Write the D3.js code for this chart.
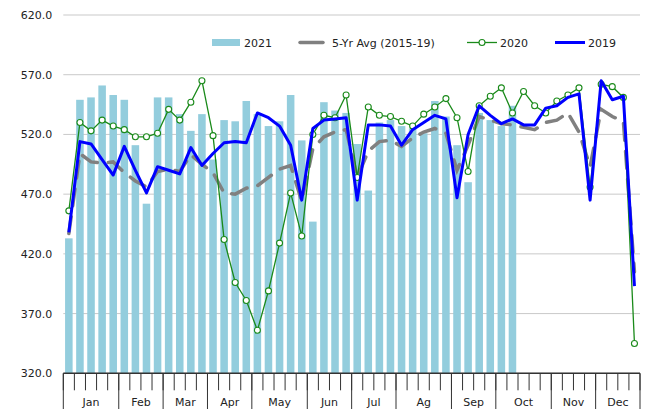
<!DOCTYPE html>
<html>
<head>
<meta charset="utf-8">
<script src="https://cdn.jsdelivr.net/npm/d3@7"></script>
<style>
  body { margin: 0; background: #fff; }
  text { font-family: "DejaVu Sans", sans-serif; font-size: 11px; fill: #222; }
</style>
</head>
<body>
<div id="chart"></div>
<script>
var months = ["Jan", "Feb", "Mar", "Apr", "May", "Jun", "Jul", "Ag", "Sep", "Oct", "Nov", "Dec"];
var weeksPerMonth = [5, 4, 4, 4, 5, 4, 4, 5, 4, 5, 4, 4];
var yTicks = [320, 370, 420, 470, 520, 570, 620];

var y2021 = [433, 549, 551, 561, 553, 549, 511, 462, 551, 551, 537, 523, 537, 499, 532, 531, 548, 537, 527, 531,
    553, 515, 447, 547, 540, 538, 512, 473, 530, 532, 527, 525, 521, 548, 535, 511, 480, 538, 532, 527, 544];
var avg5yr = [437, 504, 497, 496, 497, 488, 481, 476, 489, 491, 489, 503, 495, 488, 471, 470, 475, 477, 484, 491,
    494, 464, 508, 518, 522, 524, 484, 506, 514, 515, 510, 517, 522, 525, 521, 490, 511, 535, 532, 529,
    528, 526, 524, 530, 532, 538, 522, 493, 541, 535, 531, 405];
var y2020 = [456, 530, 523, 532, 527, 524, 518, 518, 521, 541, 532, 547, 565, 519, 432, 396, 381, 356, 389, 429,
    471, 435, 520, 536, 534, 553, 484, 543, 536, 535, 531, 527, 537, 543, 550, 534, 489, 544, 552, 559,
    538, 556, 544, 538, 548, 553, 559, 476, 562, 560, 551, 345];
var y2019 = [438, 514, 512, 499, 486, 510, 490, 471, 493, 490, 487, 509, 494, 504, 513, 514, 513, 538, 534, 527,
    511, 465, 525, 532, 533, 534, 465, 528, 528, 527, 511, 524, 530, 536, 533, 467, 520, 544, 536, 529,
    533, 528, 528, 542, 544, 551, 554, 465, 565, 549, 552, 393];

(function () {
    var width = 654, height = 409;
    var left = 63.3, right = 640, top = 15, bottom = 373.3;

    var svg = d3.select("#chart").append("svg")
        .attr("width", width)
        .attr("height", height);

    var weeks = d3.range(d3.sum(weeksPerMonth));

    var x = d3.scaleBand().domain(weeks).range([left, right])
        .paddingInner(0.32).paddingOuter(0.16);
    var step = (right - left) / weeks.length;
    var cx = function (i) { return x(i) + x.bandwidth() / 2; };

    var y = d3.scaleLinear().domain([320, 620]).range([bottom, top]);

    // grid
    svg.append("g")
        .selectAll("line")
        .data(yTicks)
        .enter().append("line")
        .attr("x1", left).attr("x2", right)
        .attr("y1", function (d) { return y(d); })
        .attr("y2", function (d) { return y(d); })
        .attr("stroke", "#c9c9c9")
        .attr("stroke-width", 1);

    // y labels
    var yAxis = svg.append("g")
        .attr("transform", "translate(" + left + ",0)")
        .call(d3.axisLeft(y).tickValues(yTicks).tickFormat(d3.format(".1f")).tickSize(0).tickPadding(11));
    yAxis.select(".domain").remove();
    yAxis.selectAll("text").attr("font-family", null).attr("font-size", null).attr("fill", null);

    // bars 2021
    svg.append("g")
        .selectAll("rect")
        .data(y2021)
        .enter().append("rect")
        .attr("x", function (d, i) { return x(i); })
        .attr("y", function (d) { return y(d); })
        .attr("width", x.bandwidth())
        .attr("height", function (d) { return bottom - y(d); })
        .attr("fill", "#93cddd");

    var line = d3.line()
        .x(function (d, i) { return cx(i); })
        .y(function (d) { return y(d); });

    svg.append("path")
        .datum(avg5yr)
        .attr("d", line)
        .attr("fill", "none")
        .attr("stroke", "#808080")
        .attr("stroke-width", 3.5)
        .attr("stroke-linecap", "round")
        .attr("stroke-dasharray", "17,11");

    svg.append("path")
        .datum(y2020)
        .attr("d", line)
        .attr("fill", "none")
        .attr("stroke", "#1a8a1a")
        .attr("stroke-width", 1.3);

    svg.append("g")
        .selectAll("circle")
        .data(y2020)
        .enter().append("circle")
        .attr("cx", function (d, i) { return cx(i); })
        .attr("cy", function (d) { return y(d); })
        .attr("r", 3)
        .attr("fill", "#fff")
        .attr("stroke", "#1a8a1a")
        .attr("stroke-width", 1.1);

    svg.append("path")
        .datum(y2019)
        .attr("d", line)
        .attr("fill", "none")
        .attr("stroke", "#0000ff")
        .attr("stroke-width", 3)
        .attr("stroke-linejoin", "round");

    // x axis: weekly ticks + month boundaries
    var ax = svg.append("g");
    ax.append("line")
        .attr("x1", left).attr("x2", right)
        .attr("y1", bottom).attr("y2", bottom)
        .attr("stroke", "#333").attr("stroke-width", 1.5);

    ax.selectAll(".wk")
        .data(d3.range(weeks.length + 1))
        .enter().append("line")
        .attr("x1", function (i) { return left + i * step; })
        .attr("x2", function (i) { return left + i * step; })
        .attr("y1", bottom)
        .attr("y2", bottom + 17)
        .attr("stroke", "#333").attr("stroke-width", 1);

    var bounds = [0];
    weeksPerMonth.forEach(function (n, i) { bounds.push(bounds[i] + n); });

    ax.selectAll(".mb")
        .data(bounds)
        .enter().append("line")
        .attr("x1", function (b) { return left + b * step; })
        .attr("x2", function (b) { return left + b * step; })
        .attr("y1", bottom)
        .attr("y2", height)
        .attr("stroke", "#333").attr("stroke-width", 1);

    ax.selectAll("text")
        .data(months)
        .enter().append("text")
        .attr("x", function (m, i) { return left + (bounds[i] + bounds[i + 1]) / 2 * step; })
        .attr("y", 406)
        .attr("text-anchor", "middle")
        .text(function (m) { return m; });

    // legend
    var lg = svg.append("g");
    lg.append("rect").attr("x", 212).attr("y", 39).attr("width", 28).attr("height", 7).attr("fill", "#93cddd");
    lg.append("text").attr("x", 244).attr("y", 47).text("2021");

    lg.append("line").attr("x1", 300).attr("x2", 323).attr("y1", 42.5).attr("y2", 42.5)
        .attr("stroke", "#808080").attr("stroke-width", 3.5).attr("stroke-linecap", "round");
    lg.append("text").attr("x", 332).attr("y", 47).text("5-Yr Avg (2015-19)");

    lg.append("line").attr("x1", 467).attr("x2", 497).attr("y1", 42.5).attr("y2", 42.5)
        .attr("stroke", "#1a8a1a").attr("stroke-width", 1.3);
    lg.append("circle").attr("cx", 482).attr("cy", 42.5).attr("r", 3)
        .attr("fill", "#fff").attr("stroke", "#1a8a1a").attr("stroke-width", 1.1);
    lg.append("text").attr("x", 500).attr("y", 47).text("2020");

    lg.append("line").attr("x1", 555).attr("x2", 585).attr("y1", 42.5).attr("y2", 42.5)
        .attr("stroke", "#0000ff").attr("stroke-width", 3);
    lg.append("text").attr("x", 588).attr("y", 47).text("2019");
}());
</script>
</body>
</html>
